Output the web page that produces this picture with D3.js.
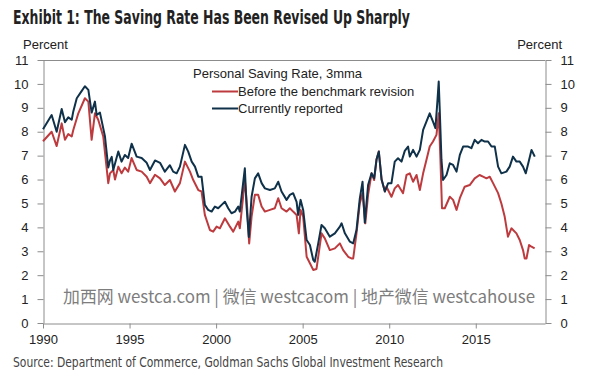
<!DOCTYPE html>
<html><head><meta charset="utf-8">
<script src="https://cdn.jsdelivr.net/npm/d3@7"></script>
<style>html,body{margin:0;padding:0;background:#fff;}svg{display:block;}</style>
</head><body>
<svg id="c" width="596" height="380"></svg>
<script>
const titleText = "Exhibit 1: The Saving Rate Has Been Revised Up Sharply";
const sourceText = "Source: Department of Commerce, Goldman Sachs Global Investment Research";
const watermarkText = "加西网 westca.com | 微信 westcacom | 地产微信 westcahouse";
const legendTitle = "Personal Saving Rate, 3mma";
const seriesNames = ["Before the benchmark revision", "Currently reported"];
const yTicks = [0,1,2,3,4,5,6,7,8,9,10,11];
const xTicks = [1990,1995,2000,2005,2010,2015];

const currentYears = [1990.0,1990.5,1990.79,1991.08,1991.27,1991.46,1991.66,1991.75,1991.95,1992.23,1992.42,1992.62,1992.81,1993.0,1993.1,1993.29,1993.58,1993.77,1993.87,1993.97,1994.06,1994.35,1994.54,1994.73,1994.92,1995.12,1995.41,1995.7,1995.99,1996.18,1996.47,1996.76,1997.04,1997.33,1997.52,1997.72,1997.91,1998.2,1998.39,1998.59,1998.78,1998.97,1999.16,1999.35,1999.54,1999.74,1999.93,2000.12,2000.32,2000.51,2000.7,2000.89,2001.09,2001.28,2001.37,2001.66,2001.76,2001.89,2002.05,2002.24,2002.43,2002.63,2002.82,2003.11,2003.39,2003.59,2003.78,2004.07,2004.26,2004.45,2004.65,2004.74,2004.88,2005.03,2005.23,2005.42,2005.61,2005.7,2005.9,2006.09,2006.28,2006.57,2006.86,2007.15,2007.25,2007.44,2007.73,2007.92,2008.11,2008.3,2008.46,2008.59,2008.78,2008.98,2009.13,2009.27,2009.4,2009.56,2009.75,2009.94,2010.13,2010.32,2010.51,2010.71,2010.9,2011.09,2011.19,2011.38,2011.58,2011.77,2011.96,2012.15,2012.34,2012.53,2012.67,2012.79,2012.86,2012.92,2013.02,2013.11,2013.31,2013.5,2013.69,2013.89,2014.08,2014.27,2014.56,2014.75,2014.94,2015.13,2015.33,2015.52,2015.71,2015.91,2016.1,2016.29,2016.48,2016.77,2016.96,2017.15,2017.35,2017.54,2017.73,2017.89,2018.08,2018.22,2018.41];
const currentValues = [8.1,8.7,8.0,8.95,8.4,8.6,8.5,8.85,9.4,9.7,9.9,9.75,8.8,9.26,8.7,8.8,7.8,6.5,6.8,6.95,6.4,7.17,6.75,7.03,6.9,7.5,6.96,6.9,6.7,6.4,6.8,6.7,6.33,6.6,6.33,6.26,6.54,7.45,7.17,6.75,6.54,6.12,6.12,4.94,4.73,4.66,4.87,4.8,4.94,5.07,4.8,4.59,4.66,4.87,4.66,6.47,4.87,3.6,5.28,6.05,6.26,5.85,5.63,5.56,5.63,5.91,5.5,5.15,5.36,5.43,5.07,4.52,5.15,4.73,3.47,3.26,2.64,2.56,3.33,4.1,3.96,3.61,3.75,4.03,4.17,3.75,3.4,3.33,3.89,5.2,5.91,4.2,5.77,6.26,6.05,6.85,7.17,6.0,5.5,5.85,5.85,6.75,6.89,6.75,7.2,7.38,6.96,7.24,6.96,7.24,8.08,8.42,8.77,8.42,8.15,9.33,10.1,8.91,6.82,5.98,6.19,6.68,6.61,6.33,7.03,7.38,7.38,7.31,7.66,7.52,7.66,7.59,7.59,7.38,7.38,6.54,6.26,6.33,6.54,6.96,6.75,6.75,6.54,6.26,6.82,7.24,6.96];

const beforeYears = [1990.0,1990.5,1990.79,1991.08,1991.27,1991.46,1991.66,1991.75,1992.04,1992.42,1992.62,1992.81,1993.0,1993.19,1993.48,1993.77,1993.87,1994.06,1994.16,1994.35,1994.54,1994.73,1994.92,1995.12,1995.41,1995.7,1995.99,1996.18,1996.47,1996.76,1997.04,1997.33,1997.62,1997.91,1998.2,1998.49,1998.68,1998.97,1999.16,1999.35,1999.64,1999.83,2000.03,2000.22,2000.51,2000.8,2000.99,2001.28,2001.37,2001.66,2001.79,2001.91,2002.05,2002.24,2002.43,2002.63,2002.82,2003.11,2003.39,2003.59,2003.78,2004.07,2004.26,2004.45,2004.65,2004.78,2004.88,2005.03,2005.23,2005.42,2005.61,2005.8,2006.09,2006.28,2006.57,2006.86,2007.15,2007.34,2007.63,2007.82,2007.92,2008.11,2008.3,2008.46,2008.62,2008.78,2008.98,2009.13,2009.27,2009.4,2009.56,2009.75,2009.84,2010.13,2010.32,2010.51,2010.8,2011.0,2011.19,2011.38,2011.58,2011.77,2011.96,2012.15,2012.34,2012.53,2012.73,2012.86,2012.96,2013.05,2013.21,2013.5,2013.69,2013.89,2014.08,2014.36,2014.65,2014.94,2015.22,2015.42,2015.62,2015.81,2016.0,2016.29,2016.48,2016.67,2016.86,2017.06,2017.35,2017.54,2017.73,2017.83,2017.93,2018.08,2018.22,2018.4];
const beforeValues = [7.6,8.0,7.4,8.35,7.66,7.9,7.8,8.07,8.77,9.4,9.26,7.66,8.77,8.5,7.8,5.85,6.26,6.4,6.0,6.54,6.26,6.5,6.33,6.9,6.4,6.33,6.12,5.85,6.2,6.05,5.77,5.98,5.5,5.85,6.75,6.33,5.98,5.56,5.5,4.52,3.89,3.82,4.03,3.96,4.38,4.03,3.82,4.24,3.96,5.98,4.87,3.33,4.45,5.36,5.36,4.87,4.66,4.73,4.8,5.22,4.8,4.66,4.8,4.66,4.52,3.75,4.73,4.45,2.77,2.5,2.22,2.26,3.75,3.54,3.05,3.12,3.33,3.05,2.77,2.7,2.7,3.75,5.0,5.43,4.17,5.36,6.26,5.98,6.85,7.17,6.0,5.5,5.7,5.28,5.63,5.77,5.43,6.19,6.26,5.91,6.19,5.56,6.26,6.82,7.38,7.59,7.87,8.77,6.82,4.8,4.8,5.28,5.15,4.73,5.22,5.7,5.77,6.05,6.19,6.12,6.05,6.12,5.85,5.43,5.0,4.45,3.61,3.96,3.75,3.47,3.05,2.7,2.7,3.26,3.19,3.12];

const svg = d3.select("#c");
const m = {l:43, r:545, t:60, b:323};
const x = d3.scaleLinear().domain([1990, 2019]).range([m.l, m.r]);
const y = d3.scaleLinear().domain([0, 11]).range([m.b, m.t]);
const axisColor = "#8c8c8c";
const tickFont = "'Liberation Sans', Arial, sans-serif";
const narrow = "'Liberation Sans Narrow', 'Arial Narrow', 'DejaVu Sans Condensed', sans-serif";

svg.append("rect").attr("width",596).attr("height",380).attr("fill","#fff");

// title
svg.append("text").attr("x",13).attr("y",24).text(titleText)
  .attr("font-family",narrow).attr("font-weight","bold").attr("font-size",19)
  .attr("fill","#222").attr("textLength",397).attr("lengthAdjust","spacingAndGlyphs");

// Percent labels
svg.append("text").attr("x",23).attr("y",49).text("Percent").attr("font-family",tickFont).attr("font-size",13).attr("fill","#222");
svg.append("text").attr("x",562).attr("y",49).attr("text-anchor","end").text("Percent").attr("font-family",tickFont).attr("font-size",13).attr("fill","#222");

// top frame
svg.append("line").attr("x1",m.l).attr("x2",m.r).attr("y1",m.t+0.5).attr("y2",m.t+0.5).attr("stroke",axisColor).attr("stroke-width",1);

function styleAxis(g){
  g.selectAll("path,line").attr("stroke",axisColor);
  g.selectAll("text").attr("font-family",tickFont).attr("font-size",13).attr("fill","#222");
}
svg.append("g").attr("transform",`translate(${m.l+0.5},0)`)
  .call(d3.axisLeft(y).tickValues(yTicks).tickSize(6).tickSizeOuter(0).tickPadding(9).tickFormat(d3.format("d")))
  .call(styleAxis);
svg.append("g").attr("transform",`translate(${m.r+0.5},0)`)
  .call(d3.axisRight(y).tickValues(yTicks).tickSize(6).tickSizeOuter(0).tickPadding(9).tickFormat(d3.format("d")))
  .call(styleAxis);
svg.append("g").attr("transform",`translate(0,${m.b+0.5})`)
  .call(d3.axisBottom(x).tickValues(xTicks).tickSize(5).tickSizeOuter(0).tickPadding(6).tickFormat(d3.format("d")))
  .call(styleAxis);

// lines
const line = d3.line().x(d=>x(d[0])).y(d=>y(d[1]));
const redC = "#bd3b3e", navyC = "#0f3149";
svg.append("path").datum(d3.zip(beforeYears, beforeValues)).attr("d",line)
  .attr("fill","none").attr("stroke",redC).attr("stroke-width",2).attr("stroke-linejoin","round");
svg.append("path").datum(d3.zip(currentYears, currentValues)).attr("d",line)
  .attr("fill","none").attr("stroke",navyC).attr("stroke-width",2).attr("stroke-linejoin","round");

// legend
const lg = svg.append("g").attr("font-family",tickFont).attr("font-size",13).attr("fill","#222");
lg.append("text").attr("x",193).attr("y",78).text(legendTitle);
[[redC,96],[navyC,113]].forEach((c,i)=>{
  lg.append("line").attr("x1",212).attr("x2",238).attr("y1",c[1]-4.5).attr("y2",c[1]-4.5).attr("stroke",c[0]).attr("stroke-width",2);
  lg.append("text").attr("x",238).attr("y",c[1]).text(seriesNames[i]);
});

// watermark
svg.append("text").attr("x",63).attr("y",303).text(watermarkText)
  .attr("font-family","'Noto Sans CJK SC', 'Noto Sans', sans-serif").attr("font-size",17)
  .attr("fill","#7d7d7d").attr("stroke","#fff").attr("stroke-width",2.5).attr("paint-order","stroke")
  .attr("textLength",472).attr("lengthAdjust","spacingAndGlyphs");

// source
svg.append("text").attr("x",13).attr("y",367).text(sourceText)
  .attr("font-family",narrow).attr("font-size",13.5).attr("fill","#444")
  .attr("textLength",430).attr("lengthAdjust","spacingAndGlyphs");
</script>
</body></html>
